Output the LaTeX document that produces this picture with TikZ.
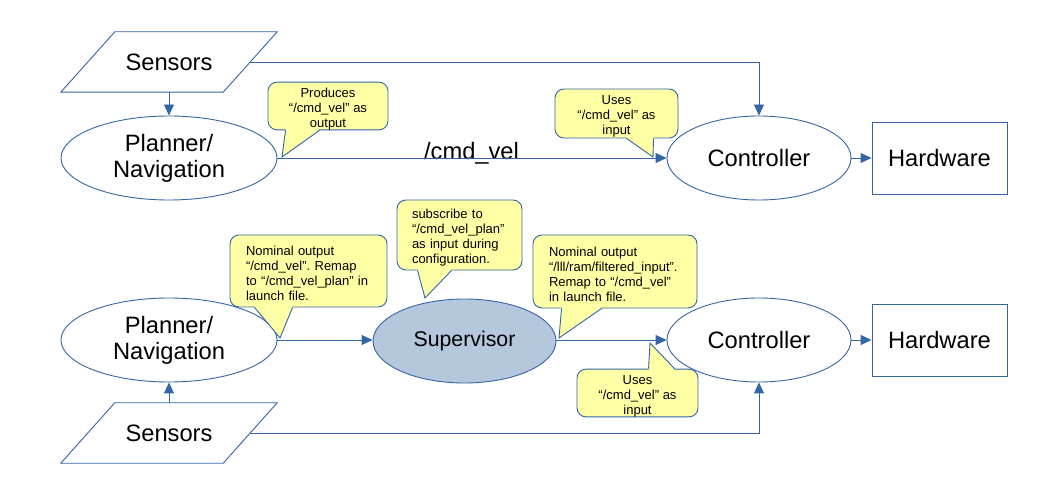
\documentclass[tikz,border=0pt]{standalone}
\usepackage{fontspec}
\setmainfont{Liberation Sans}
\frenchspacing
\usetikzlibrary{arrows.meta,positioning,shapes.geometric,calc}
\definecolor{lineblue}{HTML}{3465A4}
\definecolor{callfill}{HTML}{FFFFA6}
\definecolor{supfill}{HTML}{B4C7DC}
\tikzset{
  blockfont/.style={font=\fontsize{23.7}{26}\selectfont},
  ell/.style={ellipse,draw=lineblue,line width=0.9pt,inner sep=0pt,align=center,blockfont},
  hw/.style={rectangle,draw=lineblue,line width=0.9pt,minimum width=135pt,minimum height=72pt,blockfont},
  sens/.style={rectangle,minimum width=216pt,minimum height=60pt,inner sep=0pt,blockfont},
  callout/.style={rectangle,rounded corners=9pt,draw=lineblue,fill=callfill,line width=0.9pt,
    inner sep=0pt,font=\fontsize{13}{15}\selectfont},
  link/.style={color=lineblue,line width=0.9pt,-{Triangle[length=11pt,width=10pt]}},
}
% tail of a callout: node, anchor, base from, base to, shift into box, tip
\newcommand{\calltail}[6]{%
  \fill[callfill] ([xshift=#3pt,yshift=#5pt]#1.#2) -- (#6) -- ([xshift=#4pt,yshift=#5pt]#1.#2) -- cycle;
  \draw[lineblue,line width=0.9pt] ([xshift=#3pt]#1.#2) -- (#6) -- ([xshift=#4pt]#1.#2);
}
\newcommand{\up}{\rule{0pt}{15pt}}
\begin{document}
\begin{tikzpicture}[x=1pt,y=-1pt]
\useasboundingbox (0,0) rectangle (1037,486);

%% top: planner talks to controller directly
\node[sens] (sensA) at (169,62) {Sensors};
\node[ell,minimum width=216pt,minimum height=84pt] (planA) at (169,158) {Planner/\\Navigation};
\node[ell,minimum width=184pt,minimum height=84pt] (ctrlA) at (759,158) {Controller};
\node[hw] (hwA) at (939.5,158) {Hardware};
\node[blockfont,anchor=base] (topic) at (471.5,160) {/cmd\_vel};

%% bottom: supervisor in between
\node[ell,minimum width=216pt,minimum height=84pt] (planB) at (169,340) {Planner/\\Navigation};
\node[ell,fill=supfill,minimum width=183pt,minimum height=84pt,font=\fontsize{21.3}{24}\selectfont] (supB) at (464.5,341) {Supervisor};
\node[ell,minimum width=184pt,minimum height=84pt] (ctrlB) at (759,340) {Controller};
\node[hw] (hwB) at (939.5,340) {Hardware};
\node[sens] (sensB) at (169,433) {Sensors};

\foreach \s in {sensA,sensB}
  \draw[lineblue,line width=0.9pt] (\s.south west) -- ([xshift=-54pt]\s.south east)
    -- (\s.north east) -- ([xshift=54pt]\s.north west) -- cycle;

\draw[link] (sensA.south) -- (planA.north);
\draw[link] (planA.east) -- (ctrlA.west);
\draw[link] (ctrlA.east) -- (hwA.west);
\draw[link] ([xshift=-27pt]sensA.east) -| (ctrlA.north);
\draw[link] (sensB.north) -- (planB.south);
\draw[link] (planB.east) -- (supB.west |- planB.east);
\draw[link] (supB.east |- ctrlB.west) -- (ctrlB.west);
\draw[link] (ctrlB.east) -- (hwB.west);
\draw[link] ([xshift=-27pt]sensB.east) -| (ctrlB.south);

%% callouts
\node[callout,minimum width=120pt,minimum height=44pt,align=center] (noteA) at (328,106)
  {\up Produces\\“/cmd\_vel” as\\output};
\node[callout,minimum width=123pt,minimum height=49pt,align=center] (noteB) at (616.5,113.5)
  {\up Uses\\“/cmd\_vel” as\\input};
\node[callout,minimum width=157pt,minimum height=72pt,text width=125pt,align=left] (noteC) at (308.5,271)
  {\up Nominal output\\“/cmd\_vel”. Remap\\to “/cmd\_vel\_plan” in\\launch file.};
\node[callout,minimum width=125pt,minimum height=70pt,text width=95pt,align=left] (noteD) at (459.5,235)
  {\up subscribe to\\“/cmd\_vel\_plan”\\as input during\\configuration.};
\node[callout,minimum width=164pt,minimum height=73pt,text width=132pt,align=left] (noteE) at (615,271.5)
  {\up Nominal output\\“/lll/ram/filtered\_input”.\\Remap to “/cmd\_vel”\\in launch file.};
\node[callout,minimum width=121pt,minimum height=46pt,align=center] (noteF) at (637.5,393)
  {\up Uses\\“/cmd\_vel” as\\input};

\coordinate (tipA) at (282,157);
\coordinate (tipB) at (653,157);
\coordinate (tipC) at (280,338);
\coordinate (tipD) at (425,298);
\coordinate (tipE) at (559,338);
\coordinate (tipF) at (650,343);
\calltail{noteA}{south west}{18}{52}{1.2}{tipA}
\calltail{noteB}{south west}{72}{99}{1.2}{tipB}
\calltail{noteC}{south west}{25}{63}{1.2}{tipC}
\calltail{noteD}{south west}{21}{55}{1.2}{tipD}
\calltail{noteE}{south west}{29}{69}{1.2}{tipE}
\calltail{noteF}{north west}{72}{98}{-1.2}{tipF}
\end{tikzpicture}
\end{document}
